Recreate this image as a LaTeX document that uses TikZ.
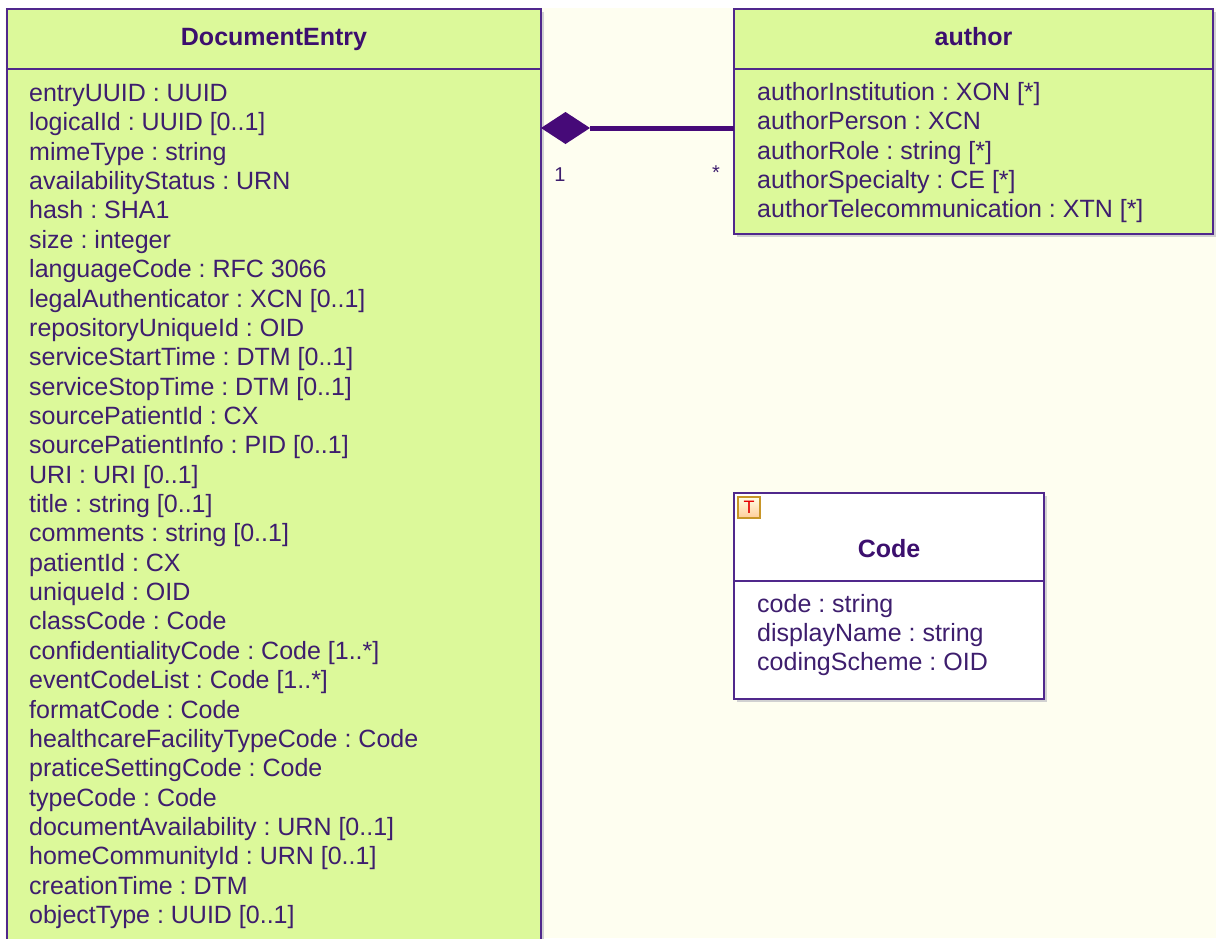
\documentclass[tikz,border=0pt]{standalone}
\usepackage{fontspec}
\setmainfont{Liberation Sans}
\definecolor{bgcream}{RGB}{254,254,240}
\definecolor{clsfill}{RGB}{220,249,154}
\definecolor{clsborder}{RGB}{80,40,140}
\definecolor{attrtext}{RGB}{62,30,110}
\definecolor{titletext}{RGB}{60,15,110}
\definecolor{assoc}{RGB}{70,10,120}
\definecolor{icongold}{RGB}{200,150,40}
\tikzset{
  clsbox/.style={draw=clsborder, line width=1.4pt},
  attr/.style={anchor=base west, inner sep=0pt, text=attrtext, font=\fontsize{25}{28}\selectfont\frenchspacing},
  ttl/.style={anchor=base, inner sep=0pt, text=titletext, font=\fontsize{25}{28}\selectfont\bfseries},
  mult/.style={anchor=base, inner sep=0pt, text=attrtext, font=\fontsize{20}{24}\selectfont},
  shade/.style={fill=black!18}
}
\begin{document}
\begin{tikzpicture}[x=1pt,y=-1pt]
\useasboundingbox (0,0) rectangle (1216,938);
\clip (0,0) rectangle (1216,938);
\fill[white] (0,0) rectangle (1216,938);
\fill[bgcream] (5,8) rectangle (1216,938);

% DocumentEntry
\fill[shade] (10,12) rectangle (544,950);
\fill[clsfill] (7,9) rectangle (541,950);
\draw[clsbox] (7,950) -- (7,9) -- (541,9) -- (541,950);
\draw[clsbox] (7,69) -- (541,69);
\node[ttl] (detitle) at (274,45.5) {DocumentEntry};
\foreach \t [count=\i from 0] in {entryUUID : UUID, logicalId : UUID [0..1], mimeType : string, availabilityStatus : URN, hash : SHA1, size : integer, languageCode : RFC 3066, legalAuthenticator : XCN [0..1], repositoryUniqueId : OID, serviceStartTime : DTM [0..1], serviceStopTime : DTM [0..1], sourcePatientId : CX, sourcePatientInfo : PID [0..1], URI : URI [0..1], title : string [0..1], comments : string [0..1], patientId : CX, uniqueId : OID, classCode : Code, confidentialityCode : Code [1..*], eventCodeList : Code [1..*], formatCode : Code, healthcareFacilityTypeCode : Code, praticeSettingCode : Code, typeCode : Code, documentAvailability : URN [0..1], homeCommunityId : URN [0..1], creationTime : DTM, objectType : UUID [0..1]}
  \node[attr] (de\i) at (29,101.5+29.36*\i) {\t};
\coordinate (deR) at (541,128);

% author
\fill[shade] (737,12) rectangle (1216,237);
\fill[clsfill] (734,9) rectangle (1213,234);
\draw[clsbox] (734,9) rectangle (1213,234);
\draw[clsbox] (734,69) -- (1213,69);
\node[ttl] (autitle) at (973.5,45.5) {author};
\foreach \t [count=\i from 0] in {authorInstitution : XON [*], authorPerson : XCN, authorRole : string [*], authorSpecialty : CE [*], authorTelecommunication : XTN [*]}
  \node[attr] (au\i) at (757,100.5+29.25*\i) {\t};
\coordinate (auL) at (734,128);

% association (composition)
\coordinate (dtip) at (590,128);
\fill[assoc] (deR) -- (565.5,112) -- (dtip) -- (565.5,144) -- cycle;
\draw[assoc, line width=5pt] (dtip) -- (auL);
\node[mult] (m1) at (560,181) {1};
\node[mult] (m2) at (716,179) {*};

% Code
\fill[shade] (737,496) rectangle (1047,702);
\fill[white] (734,493) rectangle (1044,699);
\draw[clsbox] (734,493) rectangle (1044,699);
\draw[clsbox] (734,581) -- (1044,581);
\node[ttl] (cotitle) at (889,557.5) {Code};
\shade[top color=yellow!10, bottom color=orange!40] (738,497) rectangle (760,518);
\draw[draw=icongold, line width=1.2pt] (738,497) rectangle (760,518);
\node[anchor=center, inner sep=0pt, text=red!90!black, font=\fontsize{18}{18}\selectfont] (ticon) at (749,507.5) {T};
\foreach \t [count=\i from 0] in {code : string, displayName : string, codingScheme : OID}
  \node[attr] (co\i) at (757,612.5+29*\i) {\t};
\end{tikzpicture}
\end{document}
